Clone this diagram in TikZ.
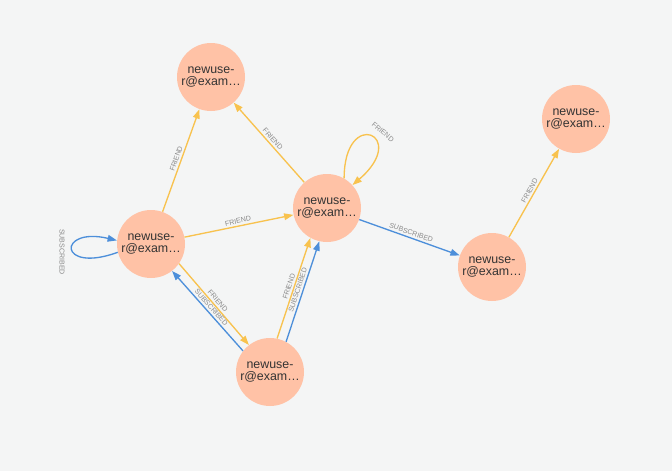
\documentclass[tikz,border=0pt]{standalone}
\usepackage{fontspec}
\setmainfont{Liberation Sans}
\usetikzlibrary{arrows.meta}
\definecolor{bg}{HTML}{F4F5F5}
\definecolor{nodefill}{HTML}{FFC2A6}
\definecolor{friendc}{HTML}{F8C24E}
\definecolor{subc}{HTML}{4D8FDA}
\definecolor{labelc}{HTML}{8A8A8A}
\definecolor{nodetext}{HTML}{333333}
\begin{document}
\begin{tikzpicture}[x=0.75pt,y=-0.75pt,
  user/.style={circle, fill=nodefill, minimum size=51pt, inner sep=0pt, align=center,
    text=nodetext, font=\fontsize{9.3}{9}\selectfont},
  rel/.style={line width=1pt, -{Triangle[length=7pt,width=5pt]}},
  friend/.style={rel, draw=friendc},
  sub/.style={rel, draw=subc},
  lbl/.style={font=\fontsize{5.3}{6}\selectfont, text=labelc, inner sep=1.5pt},
]
\fill[bg] (0,0) rectangle (672,471);
\useasboundingbox (0,0) rectangle (672,471);

\node[user] (A) at (211,77) {newuse-\\r@exam…};
\node[user] (B) at (327,208) {newuse-\\r@exam…};
\node[user] (C) at (151,244) {newuse-\\r@exam…};
\node[user] (D) at (270,372) {newuse-\\r@exam…};
\node[user] (E) at (492,267) {newuse-\\r@exam…};
\node[user] (F) at (576,119) {newuse-\\r@exam…};

\draw[friend] (C) -- node[lbl, sloped, above] (l1) {FRIEND} (A);
\draw[friend] (C) -- node[lbl, sloped, above] (l2) {FRIEND} (B);
\draw[friend] (C.-35) -- node[lbl, sloped, above] (l3) {FRIEND} (D.128);
\draw[sub] (D.142) -- node[lbl, sloped, above] (l4) {SUBSCRIBED} (C.-52);
\draw[friend] (D.78) -- node[lbl, sloped, above] (l5) {FRIEND} (B.241);
\draw[sub] (D.62) -- node[lbl, sloped, above] (l6) {SUBSCRIBED} (B.257);
\draw[friend] (B) -- node[lbl, sloped, above] (l7) {FRIEND} (A);
\draw[sub] (B) -- node[lbl, sloped, above] (l8) {SUBSCRIBED} (E);
\draw[friend] (E) -- node[lbl, sloped, above] (l9) {FRIEND} (F);

\draw[friend] (B.60) .. controls +(0,-72) and +(58,-50) .. (B.42);
\node[lbl, rotate=-40] (l10) at (383,132) {FRIEND};
\draw[sub] (C.194) .. controls +(-60,22) and +(-60,-14) .. (C.174);
\node[lbl, rotate=-90] (l11) at (62,252) {SUBSCRIBED};
\end{tikzpicture}
\end{document}
